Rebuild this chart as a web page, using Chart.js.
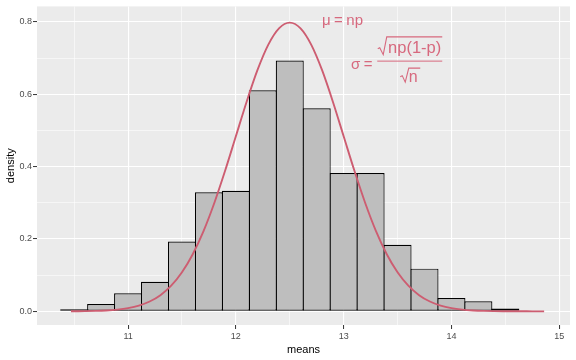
<!DOCTYPE html>
<html><head><meta charset="utf-8">
<script src="https://cdn.jsdelivr.net/npm/chart.js@4"></script>
<style>html,body{margin:0;padding:0;background:#fff}canvas{display:block}</style>
</head><body>
<canvas id="c" width="576" height="360"></canvas>
<script>
// ---- data ----
const binCenters = [10.5,10.75,11,11.25,11.5,11.75,12,12.25,12.5,12.75,13,13.25,13.5,13.75,14,14.25,14.5,14.75];
const densities  = [0.006,0.02,0.05,0.082,0.193,0.329,0.333,0.611,0.693,0.561,0.382,0.382,0.184,0.118,0.037,0.028,0.008,0.002];
const curveX = [10.47,10.5,10.6,10.7,10.8,10.9,11.0,11.1,11.2,11.3,11.4,11.5,11.6,11.7,11.8,11.9,12.0,12.1,12.2,12.3,12.4,12.5,
                12.6,12.7,12.8,12.9,13.0,13.1,13.2,13.3,13.4,13.5,13.6,13.7,13.8,13.9,14.0,14.1,14.2,14.3,14.4,14.5,14.6,14.7,14.8,14.86];
const curveY = [0.0002,0.0003,0.0006,0.0012,0.0025,0.0048,0.0089,0.0158,0.0272,0.0448,0.0710,0.1080,0.1579,0.2218,0.2995,0.3884,0.4839,0.5794,0.6664,0.7365,0.7821,0.7979,
                0.7821,0.7365,0.6664,0.5794,0.4839,0.3884,0.2995,0.2218,0.1579,0.1080,0.0710,0.0448,0.0272,0.0158,0.0089,0.0048,0.0025,0.0012,0.0006,0.0003,0.0001,0.0001,0.0000,0.0000];
const xMajorTicks = [11,12,13,14,15];
const xMinorTicks = [10.5,11.5,12.5,13.5,14.5];
const yMajorTicks = [0,0.2,0.4,0.6,0.8];
const yMinorTicks = [0.1,0.3,0.5,0.7];
const xTitle = 'means';
const yTitle = 'density';
const muLabel = ['μ', '=', 'np'];
const sigmaLabel = ['σ', '=', 'np(1-p)', 'n'];
const muAnchor = [13.0, 0.80];
const sigmaAnchor = [13.5, 0.70];

// ---- styling ----
const FONT = '"Liberation Sans", Arial, sans-serif';
const curveColor = 'rgb(205,93,113)';
const textColor = 'rgb(215,105,126)';

const bgPlugin = {
  id: 'bg',
  beforeDraw(chart) {
    const {ctx, chartArea: a} = chart;
    ctx.save();
    ctx.fillStyle = '#ffffff';
    ctx.fillRect(0, 0, chart.width, chart.height);
    ctx.fillStyle = '#EBEBEB';
    ctx.fillRect(a.left, a.top, a.right - a.left, a.bottom - a.top);
    ctx.restore();
  }
};

function rootPath(ctx, ax, ay, pts) {
  ctx.beginPath();
  pts.forEach((p, i) => { if (i === 0) ctx.moveTo(ax + p[0], ay + p[1]); else ctx.lineTo(ax + p[0], ay + p[1]); });
  ctx.stroke();
}

const annotPlugin = {
  id: 'annot',
  afterDatasetsDraw(chart) {
    const {ctx, scales: {x, y}} = chart;
    ctx.save();
    ctx.fillStyle = textColor;
    ctx.strokeStyle = textColor;
    ctx.font = '15px ' + FONT;
    ctx.textBaseline = 'alphabetic';
    ctx.textAlign = 'left';
    // mu = np
    let ax = x.getPixelForValue(muAnchor[0]), ay = y.getPixelForValue(muAnchor[1]);
    ctx.fillText(muLabel[0], ax - 21.6, ay + 3.5);
    let w = ctx.measureText(muLabel[1]).width;
    ctx.fillText(muLabel[1], ax - 5.3 - w / 2, ay + 3.5);
    ctx.fillText(muLabel[2], ax + 2.7, ay + 3.5);
    // sigma = sqrt(np(1-p))/sqrt(n)
    ax = x.getPixelForValue(sigmaAnchor[0]); ay = y.getPixelForValue(sigmaAnchor[1]);
    ctx.fillText(sigmaLabel[0], ax - 46.6, ay + 10.6);
    w = ctx.measureText(sigmaLabel[1]).width;
    ctx.fillText(sigmaLabel[1], ax - 29.3 - w / 2, ay + 10.6);
    ctx.font = '16.5px ' + FONT;
    ctx.fillText(sigmaLabel[2], ax - 9.5, ay - 5.2);
    ctx.font = '16px ' + FONT;
    ctx.fillText(sigmaLabel[3], ax + 11.3, ay + 24.1);
    ctx.lineWidth = 1;
    ctx.beginPath();
    ctx.moveTo(ax - 20.3, ay + 3.1); ctx.lineTo(ax + 44.7, ay + 3.1);
    ctx.stroke();
    ctx.lineWidth = 1.1;
    rootPath(ctx, ax, ay, [[-19.8,-9.4],[-17.8,-10.4],[-14.3,-3.4],[-10.8,-21.2],[44.7,-21.2]]);
    rootPath(ctx, ax, ay, [[2.7,18.6],[4.7,17.6],[7.7,24.1],[11.2,10.1],[22.7,10.1]]);
    ctx.restore();
  }
};

const isIn = (arr, v) => arr.some(t => Math.abs(t - v) < 1e-9);

new Chart(document.getElementById('c'), {
  type: 'bar',
  data: {
    datasets: [
      {
        type: 'line',
        data: curveX.map((v, i) => ({x: v, y: curveY[i]})),
        borderColor: curveColor,
        borderWidth: 1.9,
        pointRadius: 0,
        fill: false,
        cubicInterpolationMode: 'monotone',
        order: 0
      },
      {
        type: 'bar',
        data: binCenters.map((v, i) => ({x: v, y: densities[i]})),
        backgroundColor: '#BEBEBE',
        borderColor: '#000000',
        borderWidth: 1.2,
        borderSkipped: false,
        barPercentage: 1.04,
        categoryPercentage: 1,
        order: 1
      }
    ]
  },
  options: {
    responsive: false,
    animation: false,
    devicePixelRatio: 1,
    layout: {padding: {top: 5, right: 6, left: 0, bottom: 0}},
    plugins: {legend: {display: false}, tooltip: {enabled: false}},
    scales: {
      x: {
        type: 'linear',
        offset: false,
        min: 10.155,
        max: 15.1,
        afterFit(s) { s.height = 35; },
        afterBuildTicks(s) { s.ticks = [...xMinorTicks, ...xMajorTicks].sort((a, b) => a - b).map(v => ({value: v})); },
        grid: {
          offset: false,
          color: '#FFFFFF',
          lineWidth: c => isIn(xMajorTicks, c.tick.value) ? 1.1 : 0.55,
          drawTicks: true,
          tickLength: 4,
          tickWidth: 1,
          tickColor: c => isIn(xMajorTicks, c.tick.value) ? '#333333' : 'rgba(0,0,0,0)'
        },
        border: {display: false},
        ticks: {
          autoSkip: false, maxRotation: 0, minRotation: 0, padding: 2,
          color: '#4D4D4D', font: {family: FONT, size: 9},
          callback: v => isIn(xMajorTicks, v) ? String(v) : ''
        },
        title: {display: true, text: xTitle, color: '#000000', font: {family: FONT, size: 11}, padding: {top: 0, bottom: 3.6}}
      },
      y: {
        type: 'linear',
        min: -0.0377,
        max: 0.8427,
        afterFit(s) { s.width = 37; },
        afterBuildTicks(s) { s.ticks = [...yMajorTicks, ...yMinorTicks].sort((a, b) => a - b).map(v => ({value: v})); },
        grid: {
          color: '#FFFFFF',
          lineWidth: c => isIn(yMajorTicks, c.tick.value) ? 1.1 : 0.55,
          drawTicks: true,
          tickLength: 4,
          tickWidth: 1,
          tickColor: c => isIn(yMajorTicks, c.tick.value) ? '#333333' : 'rgba(0,0,0,0)'
        },
        border: {display: false},
        ticks: {
          autoSkip: false, padding: 1,
          color: '#4D4D4D', font: {family: FONT, size: 9},
          callback: v => isIn(yMajorTicks, v) ? Number(v).toFixed(1) : ''
        },
        title: {display: true, text: yTitle, color: '#000000', font: {family: FONT, size: 11}, padding: {top: 4, bottom: 0}}
      }
    }
  },
  plugins: [bgPlugin, annotPlugin]
});
</script>
</body></html>
